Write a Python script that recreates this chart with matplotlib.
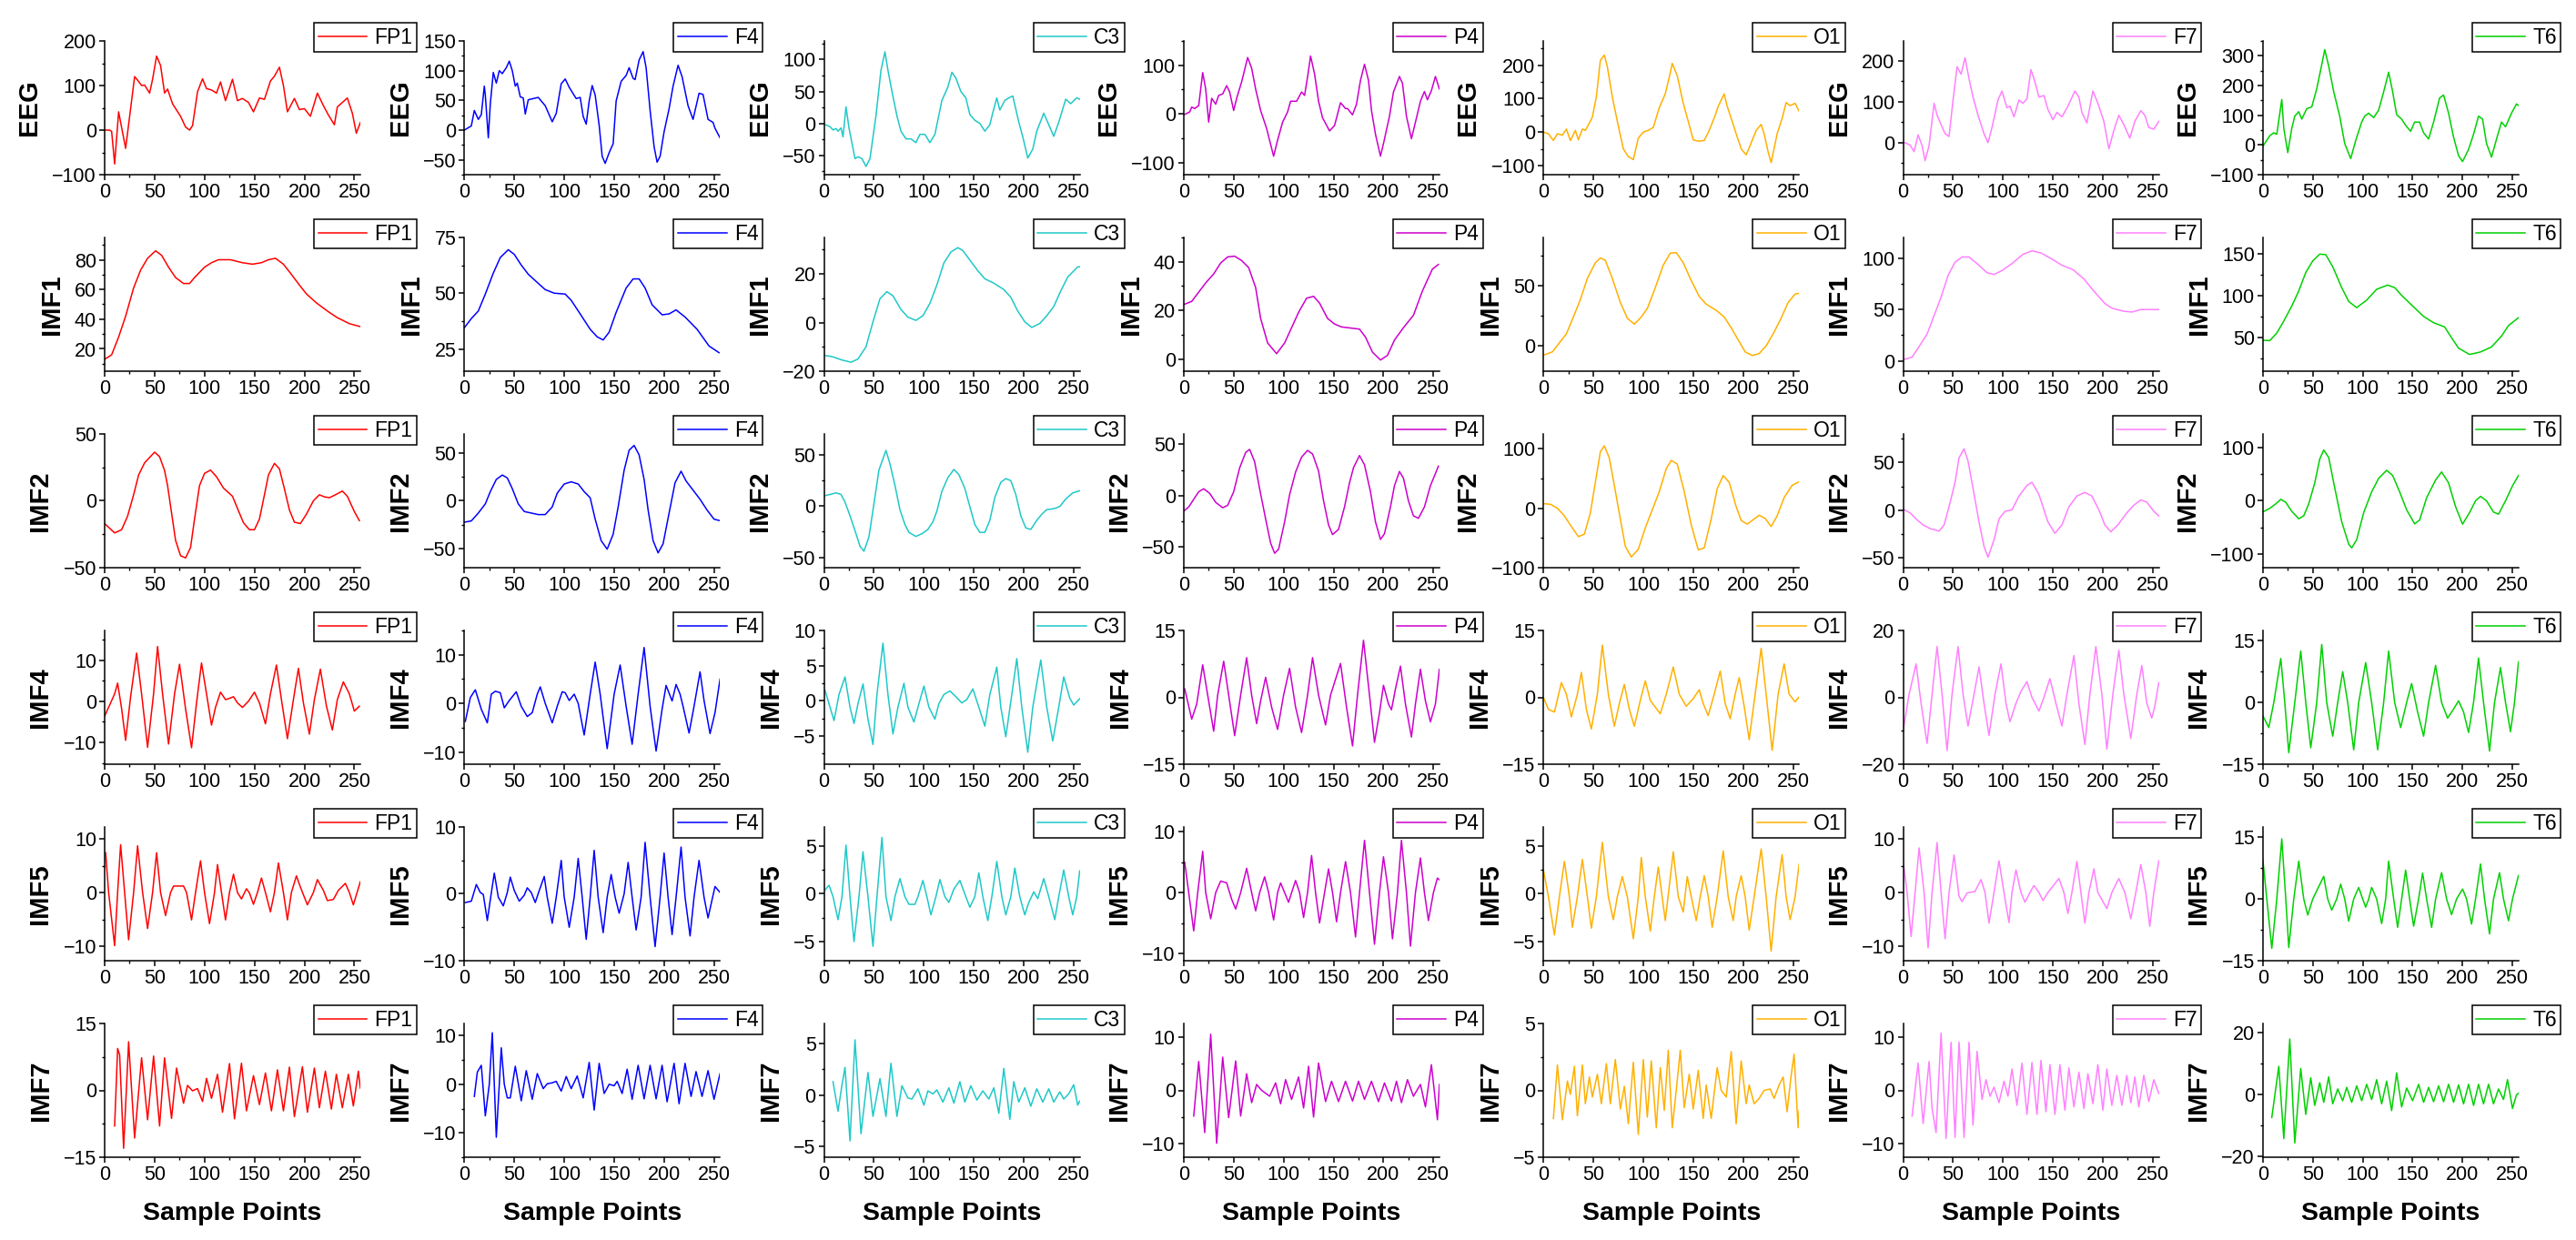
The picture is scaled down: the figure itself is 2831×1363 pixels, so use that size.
import matplotlib
matplotlib.use('Agg')
import matplotlib.pyplot as plt
from matplotlib.ticker import MultipleLocator

plt.rcParams['font.family'] = ['Liberation Sans', 'DejaVu Sans']

# --- Channels / rows ---
channels = ['FP1', 'F4', 'C3', 'P4', 'O1', 'F7', 'T6']
colors = ['#FF0000', '#0000FF', '#20C8C8', '#CC00CC', '#FFB000', '#FF80FF', '#00D000']
rows = ['EEG', 'IMF1', 'IMF2', 'IMF4', 'IMF5', 'IMF7']

# --- Traces, (sample, value) pairs ---
eeg_fp1 = [(0,0),(5,0),(7,-3),(10,-76),(14,41),(21,-41),(26,48),(30,120),(33,112),(37,100),(40,101),(45,83),(48,114),(52,166),(56,145),(60,83),(63,92),(68,59),(76,31),(81,7),(85,0),(88,10),(93,86),(98,115),(102,93),(107,90),(112,83),(116,108),(121,66),(128,114),(133,66),(138,71),(144,62),(149,41),(155,72),(160,69),(166,110),(170,121),(175,141),(179,100),(183,41),(190,71),(195,46),(200,48),(206,31),(213,83),(219,55),(224,34),(230,12),(233,52),(243,72),(248,38),(252,-7),(256,17)]
eeg_f4 = [(0,0),(5,5),(7,7),(10,33),(14,18),(17,26),(20,74),(21,59),(24,-13),(26,44),(29,97),(32,79),(35,100),(38,95),(42,105),(45,116),(48,100),(51,74),(53,79),(56,56),(59,54),(61,27),(64,51),(69,53),(74,55),(81,41),(88,14),(92,28),(97,78),(101,86),(105,72),(112,53),(116,55),(119,23),(122,10),(125,49),(128,75),(131,59),(135,8),(138,-44),(141,-56),(145,-38),(149,-23),(152,49),(157,82),(162,92),(165,105),(169,87),(171,85),(175,118),(179,132),(182,105),(186,33),(190,-28),(193,-54),(196,-44),(200,-3),(205,36),(209,74),(214,109),(218,90),(224,41),(229,18),(235,62),(239,60),(244,18),(249,13),(251,3),(256,-13)]
eeg_c3 = [(0,-1),(6,-5),(9,-10),(12,-8),(14,-12),(17,-7),(19,-21),(22,26),(25,-7),(28,-31),(31,-55),(34,-52),(38,-55),(42,-67),(46,-55),(52,12),(57,83),(61,112),(64,83),(68,50),(73,12),(77,-12),(82,-24),(87,-24),(92,-30),(96,-17),(101,-17),(106,-30),(111,-17),(118,36),(124,57),(128,80),(132,71),(137,50),(142,40),(146,14),(151,5),(156,0),(161,-12),(166,-2),(169,17),(173,40),(176,21),(181,36),(185,40),(189,43),(195,2),(199,-21),(204,-54),(209,-40),(213,-12),(220,16),(225,-2),(230,-20),(235,2),(242,38),(247,31),(253,40),(256,38)]
eeg_p4 = [(0,-2),(6,4),(8,14),(11,11),(15,17),(19,85),(22,51),(25,-17),(28,32),(32,20),(35,38),(39,41),(43,58),(46,45),(50,7),(53,32),(58,66),(64,116),(68,94),(72,51),(77,7),(83,-30),(90,-87),(94,-54),(99,-17),(104,4),(107,26),(113,26),(118,45),(121,38),(124,76),(127,119),(131,82),(135,26),(139,-8),(146,-35),(151,-24),(157,23),(162,11),(164,11),(169,-2),(173,20),(177,69),(181,102),(185,69),(188,7),(192,-42),(197,-87),(200,-61),(206,-5),(210,45),(216,77),(219,63),(223,-5),(228,-51),(232,-17),(237,26),(241,46),(244,29),(248,48),(252,77),(256,51)]
eeg_o1 = [(0,0),(5,-5),(10,-25),(14,-5),(19,-9),(23,9),(27,-25),(32,5),(35,-23),(39,9),(42,5),(46,27),(49,45),(53,105),(57,214),(61,230),(64,195),(69,105),(74,32),(80,-50),(85,-73),(90,-82),(95,-18),(100,0),(105,5),(110,14),(116,73),(122,114),(127,177),(129,205),(134,168),(140,86),(145,32),(150,-23),(155,-27),(161,-25),(166,5),(172,50),(175,77),(181,114),(184,77),(188,41),(193,-5),(198,-50),(203,-68),(208,-32),(213,5),(218,23),(221,-5),(225,-59),(228,-91),(234,-5),(239,41),(243,88),(247,79),(252,86),(256,62)]
eeg_f7 = [(0,0),(2,0),(7,-6),(11,-22),(15,19),(19,-7),(22,-44),(26,-7),(31,96),(34,67),(38,44),(42,22),(46,15),(50,104),(54,185),(58,167),(62,207),(66,156),(70,111),(75,67),(81,22),(85,0),(89,37),(95,104),(99,126),(104,85),(107,89),(111,63),(116,104),(120,96),(124,107),(128,178),(132,148),(136,111),(141,115),(145,81),(150,56),(154,74),(159,63),(165,89),(172,126),(176,111),(179,74),(184,48),(190,126),(195,96),(201,52),(206,-15),(211,30),(216,67),(221,44),(227,11),(232,52),(238,78),(242,67),(246,37),(251,33),(256,52)]
eeg_t6 = [(0,-5),(7,31),(11,41),(14,36),(19,153),(21,56),(25,-26),(29,56),(32,97),(36,112),(39,87),(44,122),(49,128),(54,189),(59,270),(62,321),(66,265),(71,179),(77,97),(82,5),(88,-46),(93,15),(99,77),(102,97),(106,107),(111,92),(116,117),(121,179),(126,245),(130,179),(134,102),(139,87),(143,66),(148,46),(152,77),(157,77),(161,41),(166,20),(171,77),(177,158),(181,168),(186,107),(191,26),(196,-36),(200,-56),(206,-15),(211,36),(216,97),(220,87),(224,5),(229,-41),(234,20),(239,77),(243,61),(249,107),(254,138),(256,133)]

imf1_fp1 = [(0,13),(7,16),(14,28),(21,42),(29,61),(36,73),(43,81),(51,86),(57,83),(64,75),(71,68),(79,64),(85,64),(90,68),(100,75),(107,78),(114,80),(126,80),(138,78),(148,77),(157,78),(164,80),(171,81),(179,77),(186,71),(195,63),(202,57),(212,51),(224,45),(233,41),(245,37),(256,35)]
imf1_f4 = [(0,34.5),(7,38.6),(14,42),(21,49.6),(29,59),(36,66),(44,69.5),(50,67.4),(57,62.6),(64,58.5),(74,54.4),(81,51.6),(90,50),(101,49.6),(107,46.8),(117,40),(126,33.8),(133,30.4),(139,29),(145,32.5),(152,41.4),(162,52.3),(169,56.4),(175,56.4),(181,52.3),(188,44.8),(198,40.3),(205,40.7),(212,42.5),(221,39.3),(233,33.8),(245,26.3),(255,23.3)]
imf1_c3 = [(0,-13.5),(8,-14),(18,-15.4),(27,-16.3),(34,-15),(42,-10),(49,0.3),(56,9.8),(63,12.7),(69,11),(77,5.4),(84,2.2),(92,0.9),(99,2.8),(106,7.9),(113,15.5),(120,24.5),(127,29),(134,30.8),(139,29.6),(146,25.7),(154,21.3),(161,18),(170,16.2),(180,13.6),(187,10.4),(194,4.7),(201,0.3),(208,-2),(216,-0.4),(223,2.8),(230,6.6),(237,13),(244,18.7),(254,22.9),(256,22.9)]
imf1_p4 = [(0,22.4),(8,23.7),(15,27.5),(22,31.3),(30,35),(37,39.5),(44,42),(51,42.3),(58,40.5),(65,37.6),(72,29.4),(77,16.7),(84,6.6),(93,2.2),(101,6.6),(108,12.9),(115,19.2),(123,25),(130,25.8),(136,23),(144,16.7),(151,14.4),(158,13.2),(168,12.7),(176,12.3),(182,9),(189,2.8),(197,-0.4),(204,1.5),(211,7.8),(220,12.9),(230,18),(239,28),(249,37),(255,38.9)]
imf1_o1 = [(0,-7.7),(9,-5),(16,2.6),(23,10),(30,24),(37,38.5),(44,56),(52,69),(57,73),(62,71),(69,56),(77,36),(84,23),(91,18),(98,24),(104,31),(111,46),(120,67),(127,77),(133,77.4),(140,69),(147,56),(156,41),(163,34.6),(173,29.5),(181,24),(188,15),(195,5),(202,-5),(209,-8),(216,-6.4),(223,0),(231,11.5),(238,23),(245,36),(252,43),(256,43.6)]
imf1_f7 = [(0,1.2),(9,3.6),(16,14),(24,26),(31,44),(38,62),(45,83),(52,96),(59,101),(66,101),(74,94.6),(84,85.7),(91,84),(99,87.8),(109,94.6),(120,103.6),(129,107),(138,105),(149,99),(159,93),(170,88.7),(181,79.7),(191,67.8),(202,55.8),(209,51.3),(220,48.4),(229,47.5),(238,49.9),(256,49.9)]
imf1_t6 = [(0,47),(7,46.6),(14,55.6),(21,70),(29,88),(36,106),(43,128),(50,142),(57,150),(63,149.5),(70,135),(79,110),(86,93.5),(94,86),(104,95),(114,108),(125,113),(132,110),(139,100.7),(150,88),(161,75.5),(171,68),(182,63),(189,50),(196,37.5),(207,30),(218,33),(229,39),(239,52),(246,64.6),(256,74)]

imf2_fp1 = [(0,-17),(5,-20.5),(10,-24),(17,-21.6),(23,-11.4),(29,4.5),(34,19.3),(40,28.4),(47,34),(50,36.4),(55,33),(60,22.7),(63,11.4),(67,-9),(71,-29.5),(76,-41),(81,-42.7),(86,-35),(90,-13.6),(95,11.4),(100,20.5),(106,23),(112,18),(119,9.5),(128,3.4),(133,-5.7),(139,-16.4),(145,-21.6),(150,-21.6),(155,-13.6),(160,4.5),(164,19.3),(170,28),(175,23.9),(180,9),(185,-6.8),(190,-16),(196,-17),(202,-10),(209,0),(215,4.5),(220,3),(225,2.3),(231,4.5),(238,7.3),(243,3.4),(250,-8),(255,-14.8)]
imf2_f4 = [(0,-22.4),(7,-21),(14,-12.8),(21,-3.2),(26,9.6),(32,22.4),(38,27),(43,24),(48,12.8),(54,-3.2),(60,-11.2),(67,-12.8),(74,-14.4),(81,-14.4),(88,-6.4),(93,8),(100,17.6),(107,19.9),(114,17.6),(120,9.6),(126,3.2),(131,-19.2),(137,-41.7),(143,-50.6),(149,-35),(154,-6.4),(160,32),(165,53),(170,58),(175,48),(180,22.4),(184,-9.6),(189,-41.7),(194,-54.5),(199,-45),(205,-12.8),(211,19),(217,31),(222,20.8),(229,11.2),(236,1.6),(243,-9.6),(250,-19.2),(256,-20.8)]
imf2_c3 = [(0,9.8),(6,11.2),(12,12.7),(17,11.2),(21,3.8),(26,-9.5),(31,-24),(36,-39),(40,-44),(45,-30),(50,2.4),(55,35),(62,54),(66,41),(71,20),(76,-3.6),(81,-18),(85,-25.7),(92,-29.6),(98,-27),(104,-22.8),(109,-15.4),(113,-5),(118,14.2),(124,27.5),(130,35.5),(135,30.5),(141,17),(146,-0.6),(151,-18),(156,-25.7),(161,-25.7),(166,-14),(171,8.3),(177,23),(182,26.6),(187,24.6),(192,11.2),(197,-9.5),(202,-21.3),(207,-22.8),(213,-14),(218,-8),(223,-3.6),(230,-2.7),(236,-0.6),(242,6.8),(249,12.7),(256,14.8)]
imf2_p4 = [(0,-15),(5,-11),(10,-3.5),(15,3.8),(20,6.7),(26,2.3),(32,-6.5),(39,-11.7),(44,-9.4),(50,3.8),(56,27),(62,42),(66,45),(71,33),(76,6.7),(82,-22.6),(87,-46),(91,-56),(95,-52),(101,-25.5),(106,0.9),(112,23),(118,37.5),(124,44),(129,40.5),(135,24),(140,-5),(145,-28.4),(149,-37.8),(155,-32.8),(161,-10.9),(166,12.6),(170,27.3),(176,39),(181,30),(187,3.8),(192,-25.5),(197,-42.5),(201,-37),(207,-10.9),(211,9.7),(216,23.5),(220,17),(225,-5),(230,-19.6),(235,-22),(241,-10.9),(247,9.7),(255,28.7)]
imf2_o1 = [(0,7.7),(7,6.7),(14,0),(21,-12.8),(28,-30.8),(35,-47.7),(41,-43.6),(47,-7.7),(52,43.6),(57,95),(61,105),(66,84.6),(71,38.5),(77,-18),(82,-64),(88,-82),(95,-69),(102,-33),(109,-2.6),(116,28),(123,66.7),(128,80.5),(134,74.4),(141,28),(148,-28),(155,-70),(161,-66.7),(168,-18),(174,33),(180,55),(186,43.6),(193,2.6),(198,-20.5),(204,-26.7),(211,-18),(216,-11.8),(222,-17),(228,-30.8),(234,-12.8),(241,18),(249,38.5),(256,44.6)]
imf2_f7 = [(0,1.3),(7,-2.6),(13,-9),(20,-15.3),(27,-19),(36,-21.7),(41,-15.3),(46,3.8),(52,29.4),(56,55),(61,64.5),(65,51.8),(70,23),(76,-12),(81,-37.7),(85,-49),(91,-31),(96,-9),(102,-1),(109,0.6),(116,15),(124,26),(129,29.4),(136,16.6),(145,-12),(152,-24),(159,-15.3),(166,3.8),(174,15),(182,18.8),(189,15),(196,0.6),(202,-15.3),(208,-22.4),(215,-15.3),(224,-2.6),(231,5.4),(238,10.9),(244,8.6),(251,-1),(256,-5.8)]
imf2_t6 = [(0,-21),(7,-14),(13,-5.6),(18,2.8),(23,-2.8),(29,-19.6),(36,-33.5),(41,-28),(46,-5.6),(52,33.5),(57,78),(61,95),(66,81),(71,33.5),(79,-39),(86,-81),(89,-88),(94,-72.6),(101,-22),(109,16.8),(116,42),(124,57),(130,47.5),(137,16.8),(144,-16.8),(152,-43),(157,-36),(164,5.6),(173,39),(179,54),(186,33.5),(193,-11),(200,-43.6),(207,-22),(213,0),(218,8.4),(224,0),(231,-21),(236,-25),(243,0),(250,28),(256,47.5)]

imf4_fp1 = [(0,-3.6),(6,-0.4),(10,1.8),(13,4.4),(17,-1.8),(21,-9.5),(26,1.1),(32,11.7),(37,1.8),(43,-11.2),(49,1.8),(53,13.3),(58,1.8),(64,-10.4),(70,1.8),(75,9),(81,-1.8),(87,-11.3),(92,-0.4),(97,9.3),(102,1.8),(107,-5.8),(111,-1.5),(116,2.2),(121,0.4),(125,0.7),(129,1.1),(133,-0.4),(138,-1.5),(144,0),(150,2.2),(155,-0.4),(161,-5.5),(166,1.8),(172,8.8),(177,0.4),(183,-9.1),(189,0.4),(194,8),(199,-0.4),(205,-8),(210,0.4),(216,7.8),(222,-1.1),(228,-7),(233,0.4),(239,4.7),(245,1.8),(250,-2.4),(255,-1.2)]
imf4_f4 = [(1,-3.7),(6,1.2),(11,2.8),(17,-1.2),(23,-4),(27,1.9),(31,2.5),(36,2.2),(40,-0.9),(45,0.6),(52,2.4),(57,-0.6),(63,-2.7),(68,-1.9),(73,1.9),(76,3.4),(81,0),(88,-4),(93,-0.6),(98,2.4),(101,2.2),(105,0.6),(110,1.9),(114,0),(120,-6.5),(126,1.9),(131,8.5),(136,1.9),(143,-9.3),(150,1.9),(156,7.9),(162,-0.6),(168,-8.4),(174,1.9),(180,11.5),(186,-0.6),(192,-9.8),(198,-1.2),(202,3.7),(208,0.5),(212,3.9),(216,1.9),(219,-0.6),(225,-6.1),(230,-0.6),(236,6.5),(240,0.6),(246,-6.2),(251,-1.9),(256,5)]
imf4_c3 = [(1,1.5),(6,-0.9),(10,-2.8),(15,0.9),(21,3.4),(26,-0.9),(30,-3.2),(34,-0.4),(39,2.4),(44,-2.6),(49,-6.2),(53,0.9),(59,8.2),(64,0.9),(69,-4.7),(74,-0.9),(80,2.5),(84,-0.9),(90,-3),(95,-0.4),(100,2.1),(105,-0.9),(111,-2.6),(115,-0.4),(120,0.9),(126,1.4),(132,0.6),(138,-0.3),(143,0.2),(149,1.7),(155,-0.9),(161,-3.6),(166,0.9),(173,4.8),(177,-0.9),(182,-5.1),(188,0.9),(193,6),(198,-0.9),(204,-7.3),(209,-0.9),(217,5.8),(223,-0.9),(229,-5.7),(235,-0.9),(240,3.4),(246,0.4),(250,-0.6),(256,0.3)]
imf4_p4 = [(1,1.9),(8,-4.9),(13,-1.5),(19,7.3),(24,0.5),(30,-7.6),(34,0.5),(40,8.1),(45,0.5),(51,-8.6),(57,0.5),(63,8.9),(68,0.5),(73,-5.9),(77,-0.8),(82,4.5),(88,-2.2),(94,-7.2),(100,0.5),(106,6.5),(112,-2.2),(118,-7.9),(124,0.5),(129,8.9),(135,0.5),(142,-6.2),(147,0.5),(157,7.6),(163,-2.2),(169,-10.9),(174,0.5),(180,12.8),(186,0.5),(191,-10.1),(196,-3.5),(200,2.7),(205,-1.5),(208,-2.8),(212,1.9),(217,7),(222,-1.5),(228,-8.9),(232,-1.5),(237,6.3),(242,-0.8),(247,-5.5),(252,-1.5),(256,6.3)]
imf4_o1 = [(0,0),(5,-2.7),(11,-3.3),(18,3.3),(23,0.7),(28,-4.4),(34,0.7),(38,5.6),(43,-2.7),(48,-7.1),(54,0.7),(59,11.7),(65,0.7),(71,-6.5),(76,-1.4),(81,2.9),(86,-2.7),(91,-6.5),(97,-0.7),(102,3.7),(107,-0.7),(117,-3.7),(123,0.7),(130,6.8),(136,0.7),(143,-2),(150,-0.3),(156,1.7),(160,-1.4),(165,-4.1),(171,0.7),(177,5.9),(182,-1.4),(187,-4.8),(192,0.7),(196,4.4),(201,-2),(206,-9.5),(212,0.7),(218,11),(223,0.7),(229,-11.9),(235,0.7),(241,7.5),(246,0.7),(252,-1),(256,0.1)]
imf4_f7 = [(0,-10),(6,0.9),(13,10),(18,-1.8),(24,-13.8),(29,0.9),(34,15.2),(39,0.9),(44,-15.9),(49,0.9),(55,15.2),(60,0.9),(65,-8.6),(71,0.9),(76,9.1),(81,-1.8),(86,-11.4),(92,0.9),(98,10),(103,-1.8),(107,-7.3),(113,-1.8),(118,1.8),(124,4.7),(129,0),(136,-4.1),(141,0),(147,5.6),(153,-1.8),(159,-8.6),(164,0.9),(171,12.5),(176,-1.8),(182,-14.1),(187,0.9),(193,15.2),(199,0.9),(204,-15.5),(210,0.9),(216,14.1),(221,0.9),(228,-12.3),(234,0.9),(239,9.5),(244,-1.8),(249,-6.2),(252,-2.7),(256,4.4)]
imf4_t6 = [(0,-3.2),(6,-6.1),(11,0),(18,10.7),(22,0),(26,-12.2),(32,0),(38,12.5),(43,0),(48,-11),(54,0),(59,14.1),(64,0),(70,-8.2),(75,0),(80,7.5),(85,0),(91,-11.5),(96,0),(103,9.7),(109,0),(115,-11.5),(121,0),(126,12.5),(132,0),(138,-6.1),(144,0),(149,4.6),(155,-2.3),(161,-8.2),(166,0),(173,9),(179,0),(185,-3.8),(191,-1.6),(196,0.4),(201,-2.3),(206,-7.3),(211,0),(216,10.8),(221,0),(227,-11.8),(232,0),(238,8.5),(243,0),(248,-7.1),(252,0),(256,9.9)]

imf5_fp1 = [(1,7.4),(4,0),(10,-9.9),(13,0),(16,8.9),(20,0),(24,-8.8),(29,0),(33,8.7),(38,0),(43,-6.7),(48,0),(52,7.4),(56,0),(61,-4.3),(66,0),(69,1.2),(79,1.2),(82,0),(87,-5.1),(91,0),(96,5.9),(100,0),(105,-5.8),(110,0),(113,5.2),(117,0),(121,-5.1),(125,0),(129,3.4),(133,0),(137,-1.2),(142,0.7),(145,-0.1),(149,-2.2),(153,0),(157,2.7),(161,0),(166,-3.6),(170,0),(174,5.5),(179,0),(183,-5.1),(187,0),(192,3.1),(196,1),(203,-2.3),(209,0),(213,2.4),(219,0.4),(223,-1.5),(229,-1.3),(234,0.4),(241,1.7),(245,0),(249,-2.3),(256,2)]
imf5_f4 = [(1,-1.3),(7,-1.1),(12,1.4),(16,0.2),(19,-0.1),(23,-4),(26,-0.9),(30,3.1),(34,-0.5),(39,-1.8),(43,0.2),(46,2.5),(50,0.5),(55,-1.1),(60,-0.2),(63,0.9),(67,0.2),(71,-1.3),(75,0.5),(80,2.6),(83,-0.5),(88,-4.4),(92,-0.5),(97,5),(100,-0.5),(105,-5),(110,-0.5),(114,5.3),(118,-0.5),(122,-6.8),(126,-0.5),(130,6.5),(134,-0.5),(139,-5.8),(143,-0.5),(147,2.9),(151,-0.5),(155,-2.9),(160,0),(164,4.7),(168,-0.5),(172,-5.4),(177,-0.5),(181,7.7),(186,-0.5),(191,-7.9),(196,-0.5),(200,6.1),(204,-0.5),(208,-6.1),(212,-0.5),(217,7),(221,-0.5),(226,-6.3),(230,-0.5),(235,5),(240,-0.5),(244,-3.6),(248,-0.9),(251,1.1),(256,0.2)]
imf5_c3 = [(1,0.4),(5,0.9),(9,-0.3),(14,-2.7),(18,-0.3),(22,5.1),(26,-0.3),(30,-5),(35,-0.3),(39,4.4),(44,-0.3),(49,-5.5),(53,-0.3),(58,5.9),(62,-0.3),(67,-2.8),(71,-0.3),(76,1.6),(81,-0.3),(85,-1.1),(91,-1.1),(94,-0.3),(99,1.4),(103,-0.3),(107,-2.2),(112,-0.3),(116,1.5),(121,-0.3),(125,-0.9),(130,0.5),(136,1.4),(142,-0.3),(146,-1.4),(151,-0.3),(155,2.2),(159,-0.3),(164,-2.8),(168,-0.3),(173,3.4),(178,-0.3),(182,-2.2),(187,-0.3),(191,2.7),(196,-0.3),(201,-2.2),(205,-0.9),(210,0.2),(214,-0.5),(220,1.6),(225,-0.3),(231,-2.7),(235,-0.3),(240,2.5),(245,-0.3),(249,-2.2),(253,-0.3),(256,2.4)]
imf5_p4 = [(1,5),(5,0),(10,-6.3),(14,0),(19,6.8),(22,0),(27,-4.3),(32,0),(37,1.9),(43,1.6),(48,-1.1),(52,-2.7),(57,0),(63,4),(68,0),(72,-3),(76,0),(81,2.6),(85,0),(90,-4.5),(94,0),(97,1.6),(101,0),(105,-1.6),(108,0),(112,2),(116,0),(120,-4.1),(124,0),(128,6.1),(132,0),(136,-5),(141,0),(145,3.9),(149,0),(153,-4.8),(157,0),(162,5.1),(167,0),(172,-7.3),(176,0),(181,8.6),(186,0),(191,-8.5),(196,0),(200,5.9),(205,0),(209,-7.6),(214,0),(218,8.6),(223,0),(227,-8.8),(232,0),(237,5.7),(241,0),(245,-4.6),(250,0),(254,2.4),(256,2.1)]
imf5_o1 = [(0,2.5),(5,-0.3),(11,-4.3),(16,-0.3),(21,3.4),(26,-0.3),(29,-3.5),(34,-0.3),(39,3.6),(44,-0.3),(48,-3.6),(53,-0.3),(59,5.4),(65,-0.3),(70,-2.7),(74,-0.3),(79,1.8),(84,-0.3),(90,-4.7),(95,-0.3),(98,3.8),(102,-0.3),(107,-3.9),(111,-0.3),(115,2.8),(122,-2.8),(130,4.4),(135,-0.3),(140,-1.9),(144,1.8),(148,-0.3),(153,-2.8),(157,-0.3),(161,1.9),(165,-0.3),(169,-3.5),(174,-0.3),(180,4.5),(185,-0.3),(190,-2.8),(193,-0.3),(198,1.9),(202,-0.3),(206,-3.8),(211,-0.3),(218,4.7),(223,-0.3),(228,-6),(233,-0.3),(239,4.1),(243,-0.3),(247,-2.7),(252,-0.3),(256,3.1)]
imf5_f7 = [(0,5.9),(4,0),(8,-8.2),(12,0),(16,8.3),(21,0),(25,-10.3),(29,0),(34,9.3),(38,0),(42,-8.6),(46,0),(51,7),(56,-0.7),(59,-1.7),(64,-0.1),(72,0.2),(78,2.4),(82,0),(86,-5.7),(91,0),(96,5.9),(101,0),(106,-5.6),(109,0),(113,4.2),(118,0),(122,-1.8),(127,0),(131,1.3),(136,0),(140,-1.5),(145,0),(156,2.6),(161,0),(165,-3.9),(169,0),(174,5.8),(178,0),(182,-5.7),(186,0),(191,4.4),(195,0),(204,-3),(209,0),(216,2.6),(222,0),(228,-4.9),(233,0),(238,5.2),(243,0),(247,-6.3),(251,0),(256,5.9)]
imf5_t6 = [(0,9.7),(4,0),(9,-12),(14,0),(19,14.6),(23,0),(26,-11.8),(31,0),(36,9.2),(41,0),(45,-3.9),(50,0),(61,5.5),(65,0),(69,-2.7),(74,0),(78,3.6),(82,0),(86,-5.4),(91,0),(96,2.8),(100,0),(103,-2),(106,0),(109,2.8),(114,0),(119,-6),(123,0),(126,9.2),(131,0),(135,-6.9),(139,0),(143,7),(147,0),(151,-6.6),(156,0),(160,6.3),(164,0),(169,-6.9),(173,0),(179,6.4),(184,0),(189,-3.8),(194,0),(200,2.4),(204,0),(209,-6.1),(213,0),(218,8.5),(222,0),(227,-8.5),(231,0),(237,6.4),(241,0),(246,-5.3),(250,0),(256,5.7)]

imf7_fp1 = [(10,-8),(13,9.4),(15,8),(19,-13),(24,10.9),(30,-10.7),(37,7.3),(43,-6.6),(49,7.7),(55,-8),(60,7.3),(67,-6.3),(72,5),(79,-2.9),(83,1.1),(88,-0.1),(93,0.4),(98,-2.5),(102,2.7),(107,-1.8),(113,3.6),(118,-4.9),(125,6),(130,-6.4),(137,6.1),(142,-4.6),(149,3.3),(155,-3.2),(161,3.9),(167,-4.6),(173,4.6),(179,-4.6),(185,5.2),(190,-5.9),(198,5.3),(203,-4.9),(210,5),(215,-3.9),(221,4.3),(227,-4.2),(232,3.6),(238,-3.9),(244,3.6),(249,-3.5),(254,4.3),(256,0.5)]
imf7_f4 = [(10,-2.5),(13,2.5),(17,3.9),(21,-6.5),(25,0),(28,10.6),(30,0),(32,-10.9),(35,0),(37,7.5),(40,0),(43,-2.8),(46,-2.8),(51,3.7),(57,-3.4),(62,2.8),(68,-3.1),(73,2.2),(79,-0.9),(83,0.1),(88,0.3),(92,0.6),(97,-1.4),(102,1.6),(107,-0.9),(113,1.7),(119,-2.8),(125,4.5),(130,-5.3),(135,4.3),(140,-1.9),(145,0),(150,-0.3),(153,0.6),(158,-1.9),(163,3.1),(168,-3.1),(174,3.9),(180,-3),(186,3.9),(192,-3),(198,3.9),(203,-3.6),(210,4.3),(215,-4),(221,4.3),(227,-2.5),(232,2.6),(238,-2.5),(244,2.8),(250,-3.1),(256,2.2)]
imf7_c3 = [(9,1.3),(14,-1.6),(18,1),(21,2.7),(26,-4.5),(31,5.4),(37,-3.8),(44,2.2),(49,-2.1),(56,1.6),(62,-2.1),(67,3.1),(73,-2.1),(78,0.9),(84,-0.3),(88,-0.4),(94,0.6),(100,-1),(104,0.4),(109,0.1),(113,0.5),(119,-0.7),(125,0.7),(130,-0.8),(136,1.3),(141,-0.7),(147,0.9),(153,-0.5),(159,0.4),(165,-0.4),(170,0.7),(175,-1.8),(180,2.6),(186,-2.4),(190,1.3),(195,-0.7),(201,0.7),(207,-1.1),(213,0.6),(219,-0.7),(225,0.6),(230,-0.7),(236,0.3),(240,-0.4),(245,0.1),(250,1),(254,-1),(256,-0.6)]
imf7_p4 = [(10,-4.8),(15,5.4),(21,-7.9),(27,10.5),(33,-9.9),(39,6.2),(45,-5.1),(52,5.5),(57,-4.8),(63,3.1),(68,-2.3),(73,1.1),(78,0),(86,-1.1),(92,1.4),(97,-2.5),(102,2),(108,-1.7),(115,2.5),(120,-3.3),(125,4.5),(130,-5),(135,5.1),(142,-2.1),(148,1.7),(155,-2.1),(162,1.7),(169,-2),(175,1.7),(181,-1.7),(188,1.7),(195,-2.1),(201,1.4),(208,-2),(213,1.7),(218,-2.3),(224,2),(230,-1.1),(237,1.1),(242,-3.1),(248,4.8),(254,-5.5),(256,1.1)]
imf7_o1 = [(10,-2.1),(14,1.9),(19,-2.2),(24,0.7),(27,-0.3),(31,1.8),(34,-1.9),(39,1.9),(42,-1),(46,1),(49,-0.5),(54,1.2),(58,-1),(63,2),(67,-1),(72,2.3),(77,-1.4),(81,0.3),(85,-2.5),(90,2.1),(95,-3.3),(100,2.3),(104,-2),(108,2.2),(113,-2.8),(117,1.7),(121,-1.5),(125,3),(129,-2.8),(133,0),(137,3),(141,-1.3),(146,1.2),(150,-1.4),(155,1.5),(160,-2.1),(163,0.4),(168,-2.1),(174,1.7),(178,0),(183,-0.5),(188,2.9),(193,-2.5),(198,2.2),(203,-1),(206,0.4),(211,-1),(216,-0.6),(221,0),(227,0.1),(231,-0.6),(236,0.4),(240,1),(244,-1.6),(248,1.1),(251,2.7),(255,-2.8),(256,-1.5)]
imf7_f7 = [(9,-4.8),(15,5.1),(20,-6.2),(26,5.4),(29,-3.4),(33,-7.9),(38,10.7),(43,-9),(48,9),(52,-8.8),(56,9),(61,-8.8),(66,9),(70,-6.5),(74,7.3),(79,-1.7),(83,2),(87,-1.1),(91,0.6),(96,-2.3),(101,1.7),(105,-1.1),(109,4),(114,-2.8),(119,5.1),(124,-4.5),(129,5.2),(134,-4.5),(138,5.6),(143,-4),(147,4.8),(152,-4.5),(157,4.8),(162,-3.7),(166,4.2),(171,-3.1),(176,3.4),(181,-3.4),(185,3.1),(190,-2.5),(195,4.8),(200,-3.7),(204,4),(209,-2.8),(214,2.8),(219,-2.8),(224,2.8),(228,-2.3),(232,2.5),(236,-3.1),(241,2.8),(246,-2.1),(251,2),(256,-0.6)]
imf7_t6 = [(9,-7.5),(16,9),(21,-14.3),(27,17.8),(32,-15.7),(38,8.3),(43,-6.5),(48,5.3),(52,-3.6),(57,3.7),(61,-2.6),(66,5.6),(70,-3.1),(75,1.7),(80,-2.1),(84,2.2),(89,-2.6),(94,2.7),(99,-2.1),(104,3.2),(109,-1.7),(114,4.7),(119,-3.1),(124,4.2),(129,-5.3),(134,6.9),(139,-4.1),(144,2),(150,-2.1),(156,3.2),(161,-2.6),(166,2.2),(171,-2.4),(176,2.7),(181,-2.4),(186,3.2),(191,-2.6),(196,3),(201,-3.1),(206,3.2),(211,-3.6),(216,3.2),(221,-3.1),(226,3.2),(231,-3.1),(236,1.7),(241,-1.7),(245,4.7),(250,-4.6),(254,-0.2),(256,0.3)]

eeg = [eeg_fp1, eeg_f4, eeg_c3, eeg_p4, eeg_o1, eeg_f7, eeg_t6]
imf1 = [imf1_fp1, imf1_f4, imf1_c3, imf1_p4, imf1_o1, imf1_f7, imf1_t6]
imf2 = [imf2_fp1, imf2_f4, imf2_c3, imf2_p4, imf2_o1, imf2_f7, imf2_t6]
imf4 = [imf4_fp1, imf4_f4, imf4_c3, imf4_p4, imf4_o1, imf4_f7, imf4_t6]
imf5 = [imf5_fp1, imf5_f4, imf5_c3, imf5_p4, imf5_o1, imf5_f7, imf5_t6]
imf7 = [imf7_fp1, imf7_f4, imf7_c3, imf7_p4, imf7_o1, imf7_f7, imf7_t6]
traces = [eeg, imf1, imf2, imf4, imf5, imf7]

# --- y range per panel: (low, high, major tick step) ---
ylim_eeg = [(-100, 200, 100), (-75, 150, 50), (-80, 129, 50), (-125, 150, 100), (-127, 272, 100), (-78, 248, 100), (-100, 350, 100)]
ylim_imf1 = [(5, 95, 20), (15, 75, 25), (-20, 35, 20), (-5, 50, 20), (-21, 90, 50), (-10, 120, 50), (10, 170, 50)]
ylim_imf2 = [(-50, 50, 50), (-70, 70, 50), (-60, 70, 50), (-70, 60, 50), (-100, 125, 100), (-60, 80, 50), (-125, 125, 100)]
ylim_imf4 = [(-15.3, 17.2, 10), (-12.5, 15, 10), (-9, 10, 5), (-15, 15, 15), (-15, 15, 15), (-20, 20, 20), (-15, 17.5, 15)]
ylim_imf5 = [(-12.7, 12.2, 10), (-10, 10, 10), (-7, 7, 5), (-11.2, 10.8, 10), (-7, 7, 5), (-12.7, 12.2, 10), (-15, 17.5, 15)]
ylim_imf7 = [(-15, 15, 15), (-15, 12.5, 10), (-6.1, 7, 5), (-12.5, 12.5, 10), (-5, 5, 5), (-12.5, 12.5, 10), (-20.3, 22.8, 20)]
ylims = [ylim_eeg, ylim_imf1, ylim_imf2, ylim_imf4, ylim_imf5, ylim_imf7]

# --- layout (pixels of a 2831 x 1363 canvas) ---
W, H = 2831, 1363
fig = plt.figure(figsize=(W / 100, H / 100), dpi=100)

ax_left0, ax_pitch, ax_w = 115, 395.3, 281
ax_top0, ax_vpitch, ax_h = 45, 216, 147

for r, row_name in enumerate(rows):
    for c, ch in enumerate(channels):
        left = (ax_left0 + c * ax_pitch) / W
        bottom = 1 - (ax_top0 + r * ax_vpitch + ax_h) / H
        ax = fig.add_axes([left, bottom, ax_w / W, ax_h / H])

        pts = traces[r][c]
        xs = [p[0] for p in pts]
        ys = [p[1] for p in pts]
        ax.plot(xs, ys, color=colors[c], lw=1.1, label=ch)

        lo, hi, step = ylims[r][c]
        ax.set_xlim(0, 256)
        ax.set_ylim(lo, hi)
        ax.xaxis.set_major_locator(MultipleLocator(50))
        ax.xaxis.set_minor_locator(MultipleLocator(25))
        ax.yaxis.set_major_locator(MultipleLocator(step))
        ax.yaxis.set_minor_locator(MultipleLocator(step / 2))

        for side in ['top', 'right']:
            ax.spines[side].set_visible(False)
        for side in ['left', 'bottom']:
            ax.spines[side].set_linewidth(1.1)
        ax.tick_params(which='major', direction='out', length=4, width=1.1,
                       labelsize=15.5, pad=2.5)
        ax.tick_params(which='minor', direction='out', length=2.5, width=1.0)

        ax.set_ylabel(row_name, fontsize=21, fontweight='bold', labelpad=8)
        if r == len(rows) - 1:
            ax.set_xlabel('Sample Points', fontsize=20.5, fontweight='bold', labelpad=14)

        leg = ax.legend(loc='upper left', bbox_to_anchor=(230 / ax_w, 1 + 20 / ax_h),
                        borderaxespad=0, fontsize=16.5, handlelength=2.35,
                        handletextpad=0.35, borderpad=0.2, fancybox=False,
                        framealpha=1, edgecolor='black')
        leg.get_frame().set_linewidth(1.1)

fig.savefig('out.png', dpi=100)
